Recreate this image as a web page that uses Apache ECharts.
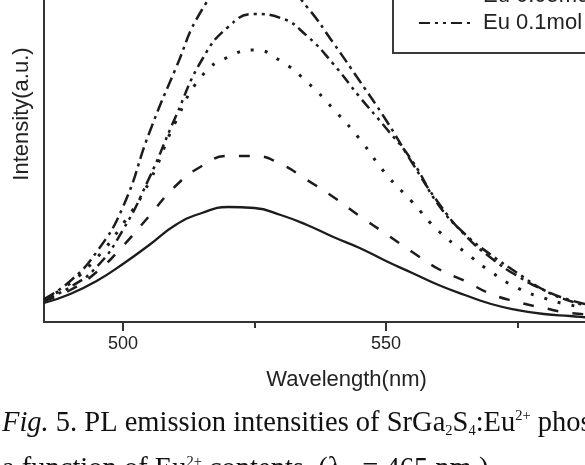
<!DOCTYPE html>
<html>
<head>
<meta charset="utf-8">
<script src="https://cdn.jsdelivr.net/npm/echarts@6/dist/echarts.min.js"></script>
<style>
html,body{margin:0;padding:0;background:#fff;}
#c{width:585px;height:465px;}
</style>
</head>
<body>
<div id="c"></div>
<script>
// Wavelength samples (nm)
const wavelengths = [485,490,495,500,505,510,515,520,525,530,535,540,545,550,555,560,565,570,575,580,585,590,595,600];
// Intensities (a.u.)
const eu001 = [19,28,41,58,77,97,109,115,114,107,97,85,74,61,49,37,27,18,12,8,6,4,3,3];
const eu002 = [21,32,50,76,106,136,156,166,166,158,142,125,106,88,70,53,41,28,20,14,9,7,5,4];
const eu003 = [22,39,64,98,140,200,246,265,272,261,240,213,183,148,120,91,70,50,34,24,17,13,10,8];
const eu005 = [23,41,70,115,189,253,312,340,348,342,315,279,241,202,159,119,87,64,46,32,22,16,12,9];
const eu010 = [22,35,55,92,144,205,262,295,308,304,286,258,225,194,161,117,88,67,49,32,21,15,11,8];
const seriesNames = ['Eu 0.01mol','Eu 0.02mol','Eu 0.03mol','Eu 0.05mol','Eu 0.1mol'];
const majorTicks = [500,550];
const minorTicks = [525,575];

const ink = '#1c1c1c';
const dashes = ['solid',[11,14],[3,11],[12,5,3,5],[11,5,3,5,3,5]];
const widths = [2.3,2.5,3,2.5,2.5];
const all = [eu001,eu002,eu003,eu005,eu010];

const chart = echarts.init(document.getElementById('c'), null, {renderer:'canvas'});
chart.setOption({
  animation:false,
  backgroundColor:'#fff',
  grid:{left:44, top:-94, width:605, bottom:143, outerBoundsMode:'none', containLabel:false},
  legend:{
    orient:'vertical', left:393, top:-108,
    padding:[12,20,19,25], itemGap:5, itemWidth:54, itemHeight:14,
    borderColor:'#3a3a3a', borderWidth:2, borderRadius:0,
    itemStyle:{opacity:0},
    textStyle:{fontFamily:'Liberation Sans', fontSize:22, lineHeight:22, color:'#222', padding:[0,0,0,5]},
    data:seriesNames
  },
  xAxis:[{
    type:'value', min:485, max:600, position:'bottom',
    name:'Wavelength(nm)', nameLocation:'middle', nameGap:47,
    nameTextStyle:{fontFamily:'Liberation Sans', fontSize:22, lineHeight:22, color:'#222'},
    axisLine:{show:true, onZero:false, lineStyle:{color:'#333', width:2}},
    axisTick:{show:true, inside:false, length:9, customValues:majorTicks, lineStyle:{color:'#333', width:2}},
    axisLabel:{show:true, margin:13, customValues:majorTicks, fontFamily:'Liberation Sans', fontSize:18, color:'#222'},
    splitLine:{show:false}
  },{
    type:'value', min:485, max:600, position:'bottom', offset:0,
    axisLine:{show:false},
    axisTick:{show:true, inside:false, length:6, customValues:minorTicks, lineStyle:{color:'#333', width:2}},
    axisLabel:{show:false},
    splitLine:{show:false}
  }],
  yAxis:{
    type:'value', min:0, max:416,
    name:'Intensity(a.u.)', nameLocation:'middle', nameGap:11, nameRotate:90,
    nameTextStyle:{fontFamily:'Liberation Sans', fontSize:22, lineHeight:22, color:'#222'},
    axisLine:{show:true, lineStyle:{color:'#333', width:2}},
    axisTick:{show:false}, axisLabel:{show:false}, splitLine:{show:false}
  },
  series: all.map((vals,i)=>({
    name:seriesNames[i], type:'line', smooth:true, symbol:'none', xAxisIndex:0,
    data: wavelengths.map((w,j)=>[w, vals[j]]),
    lineStyle:{color:ink, width:widths[i], type:dashes[i], cap:'butt'},
    itemStyle:{color:ink}
  })),
  graphic:[
    {type:'text', x:2, y:424, style:{
      text:'{i|Fig.} 5. PL emission intensities of SrGa{sub|2}S{sub|4}:Eu{sup|2+} phosphors as',
      fontFamily:'Liberation Serif', fontSize:28.5, lineHeight:30, fill:'#111', align:'left', verticalAlign:'middle',
      rich:{
        i:{fontFamily:'Liberation Serif', fontSize:28.5, fontStyle:'italic', lineHeight:30},
        sub:{fontFamily:'Liberation Serif', fontSize:14.5, lineHeight:14, verticalAlign:'bottom'},
        sup:{fontFamily:'Liberation Serif', fontSize:14.5, lineHeight:14, verticalAlign:'top'}
      }
    }},
    {type:'text', x:2, y:470, style:{
      text:'a function of Eu{sup|2+} contents. (λ{sub|ex} = 465 nm.)',
      fontFamily:'Liberation Serif', fontSize:28.5, lineHeight:30, fill:'#111', align:'left', verticalAlign:'middle',
      rich:{
        sub:{fontFamily:'Liberation Serif', fontSize:14.5, lineHeight:14, verticalAlign:'bottom'},
        sup:{fontFamily:'Liberation Serif', fontSize:14.5, lineHeight:14, verticalAlign:'top'}
      }
    }}
  ]
});
</script>
</body>
</html>
